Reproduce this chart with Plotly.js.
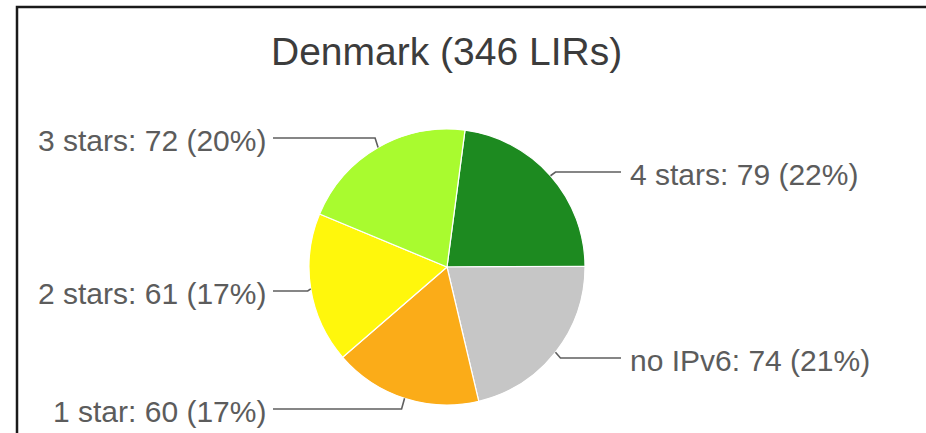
<!DOCTYPE html>
<html>
<head>
<meta charset="utf-8">
<script src="https://cdn.plot.ly/plotly-3.0.1.min.js"></script>
<style>html,body{margin:0;padding:0;background:#fff;overflow:hidden;}#chart{width:926px;height:433px;}</style>
</head>
<body>
<div id="chart"></div>
<script>
// ---- data ----
const titleText = "Denmark (346 LIRs)";
const categories = ["4 stars", "no IPv6", "1 star", "2 stars", "3 stars"];
const values = [79, 74, 60, 61, 72];
const colors = ["#1d8a20", "#c6c6c6", "#fbac18", "#fff70c", "#a9fb2f"];

// ---- layout constants (pixels) ----
const W = 926, H = 433;
const CX = 447, CY = 267, R = 138;
const ROTATION = 7.5;
const labelSide = ["right", "right", "left", "left", "left"];
const labelLineY = [172, 358, 409, 291, 138];
const RIGHT_LINE_END = 621, LEFT_LINE_END = 273;
const RIGHT_TEXT_X = 628, LEFT_TEXT_X = 268;
const labelColor = "#5c5c5c";
const lineColor = "#5f5f5f";

const px = x => x / W;
const py = y => 1 - y / H;

const total = values.reduce((a, b) => a + b, 0);

const trace = {
  type: "pie",
  labels: categories,
  values: values,
  sort: false,
  direction: "clockwise",
  rotation: ROTATION,
  marker: { colors: colors, line: { color: "#ffffff", width: 1.2 } },
  textinfo: "none",
  hoverinfo: "label+value+percent",
  showlegend: false,
  domain: { x: [px(CX - R), px(CX + R)], y: [py(CY + R), py(CY - R)] }
};

const shapes = [
  { type: "rect", xref: "paper", yref: "paper", layer: "above",
    x0: px(905), x1: 1, y0: py(40), y1: py(9.5),
    fillcolor: "#ffffff", line: { width: 0 } },
  { type: "path", xref: "paper", yref: "paper",
    path: `M ${px(926)} ${py(7)} L ${px(17)} ${py(7)} L ${px(17)} ${py(433)}`,
    line: { color: "#1a1a1a", width: 2.5 } }
];

const annotations = [{
  text: titleText, xref: "paper", yref: "paper", x: px(446), y: py(52),
  xanchor: "center", yanchor: "middle", showarrow: false,
  font: { family: "Liberation Sans, Arial, sans-serif", size: 39, color: "#3c3c3c" }
}];

let cum = 0;
values.forEach((v, i) => {
  const midDeg = ROTATION + (cum + v / 2) / total * 360;
  cum += v;
  const a = midDeg * Math.PI / 180;
  const ex = CX + R * Math.sin(a);
  const ey = CY - R * Math.cos(a);
  const right = labelSide[i] === "right";
  const elbowX = right ? ex + 5 : ex - 3;
  const ly = labelLineY[i];
  const endX = right ? RIGHT_LINE_END : LEFT_LINE_END;
  shapes.push({
    type: "path", xref: "paper", yref: "paper",
    path: `M ${px(ex)} ${py(ey)} L ${px(elbowX)} ${py(ly)} L ${px(endX)} ${py(ly)}`,
    line: { color: lineColor, width: 1.6 }
  });
  const pct = Math.floor(v / total * 100);
  annotations.push({
    text: `${categories[i]}: ${v} (${pct}%)`,
    xref: "paper", yref: "paper",
    x: px(right ? RIGHT_TEXT_X : LEFT_TEXT_X), y: py(ly + 2),
    xanchor: right ? "left" : "right", yanchor: "middle",
    showarrow: false,
    font: { family: "Liberation Sans, Arial, sans-serif", size: 30, color: labelColor }
  });
});

const layout = {
  width: W, height: H,
  margin: { l: 0, r: 0, t: 0, b: 0, pad: 0 },
  paper_bgcolor: "#ffffff",
  plot_bgcolor: "#ffffff",
  shapes: shapes,
  annotations: annotations
};

Plotly.newPlot("chart", [trace], layout, { displayModeBar: false, staticPlot: true });
</script>
</body>
</html>
